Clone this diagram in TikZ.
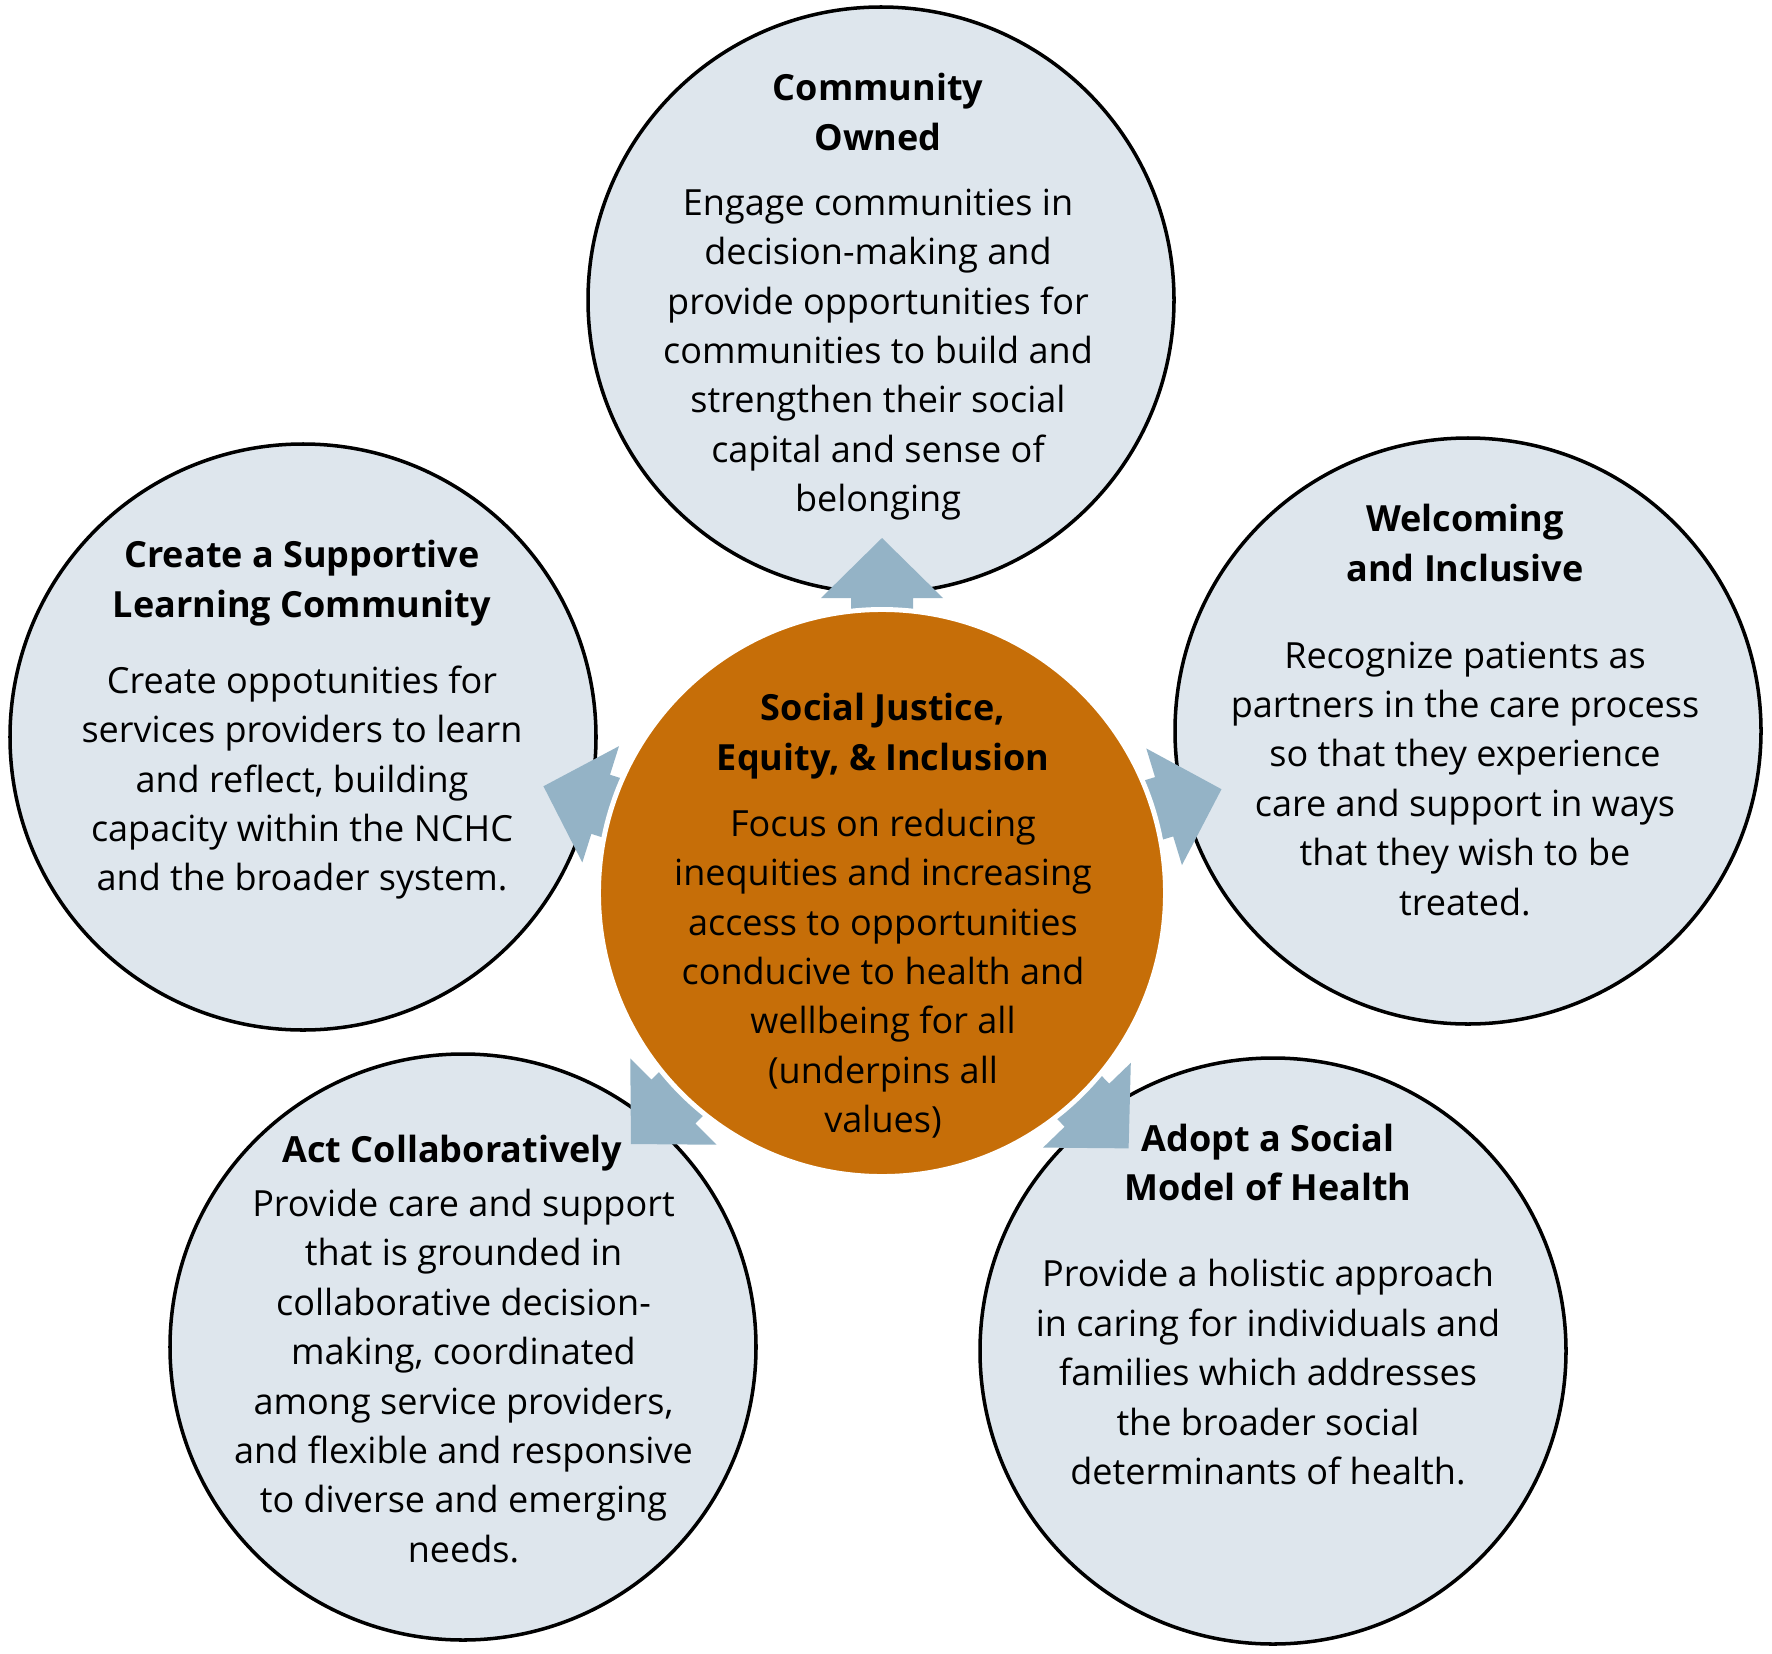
\documentclass[tikz,border=0pt]{standalone}
\usepackage{fontspec}
\setmainfont{Open Sans}
\usetikzlibrary{positioning}
\definecolor{paleblue}{RGB}{222,230,237}
\definecolor{rust}{RGB}{198,110,8}
\definecolor{steel}{RGB}{148,179,198}
\tikzset{
    bubble/.style={circle, draw=black, line width=1pt, fill=paleblue, minimum size=5.86cm, inner sep=0pt},
    hub/.style={circle, draw=white, line width=1.4pt, fill=rust, minimum size=5.67cm, inner sep=0pt},
    blurb/.style={align=center, inner sep=0pt, font=\fontsize{10.25pt}{14.06pt}\selectfont},
    fat/.style={fill=steel, draw=none}
}
\newcommand{\fatarrow}[1]{%
    \fill[fat, shift={(c)}, rotate=#1] (2.55,-0.31) -- (2.95,-0.31) -- (2.95,-0.61) -- (3.55,0)
        -- (2.95,0.61) -- (2.95,0.31) -- (2.55,0.31) -- cycle;}

\begin{document}
\begin{tikzpicture}
    \useasboundingbox (0,0) rectangle (17.72,-16.54);
    \coordinate (c) at (8.82,-8.93);

    % outer values
    \node[bubble] (own) at ([shift={(-0.01,5.93)}]c) {};
    \node[bubble] (learn) at ([shift={(-5.79,1.56)}]c) {};
    \node[bubble] (welcome) at ([shift={(5.86,1.62)}]c) {};
    \node[bubble] (collab) at ([shift={(-4.19,-4.54)}]c) {};
    \node[bubble] (social) at ([shift={(3.91,-4.58)}]c) {};

    % arrows out of the hub
    \foreach \ang in {90,17,162.5,225,-46}
        \fatarrow{\ang};

    \node[hub] (mid) at (c) {};

    \node[blurb] (ownTxt) at ([shift={(-0.03,0.03)}]own) {\textbf{Community}\\\textbf{Owned}\\[4.4pt]
        Engage communities in\\decision-making and\\provide opportunities for\\communities to build and\\strengthen their social\\capital and sense of\\belonging};
    \node[blurb] (learnTxt) at ([shift={(-0.01,0.17)}]learn) {\textbf{Create a Supportive}\\\textbf{Learning Community}\\[7.6pt]
        Create oppotunities for\\services providers to learn\\and reflect, building\\capacity within the NCHC\\and the broader system.};
    \node[blurb] (welcomeTxt) at ([shift={(-0.03,0.21)}]welcome) {\textbf{Welcoming}\\\textbf{and Inclusive}\\[10.7pt]
        Recognize patients as\\partners in the care process\\so that they experience\\care and support in ways\\that they wish to be\\treated.};
    \node[blurb] (midTxt) at ([shift={(0.01,-0.23)}]mid) {\textbf{Social Justice,}\\\textbf{Equity, \& Inclusion}\\[4.7pt]
        Focus on reducing\\inequities and increasing\\access to opportunities\\conducive to health and\\wellbeing for all\\(underpins all\\values)};
    \node[blurb] (collabTxt) at ([shift={(0.005,-0.02)}]collab) {\textbf{Act Collaboratively}\hspace*{0.22cm}\\[1.3pt]
        Provide care and support\\that is grounded in\\collaborative decision-\\making, coordinated\\among service providers,\\and flexible and responsive\\to diverse and emerging\\needs.};
    \node[blurb] (socialTxt) at ([shift={(-0.05,0.465)}]social) {\textbf{Adopt a Social}\\\textbf{Model of Health}\\[10.4pt]
        Provide a holistic approach\\in caring for individuals and\\families which addresses\\the broader social\\determinants of health.};
\end{tikzpicture}
\end{document}
